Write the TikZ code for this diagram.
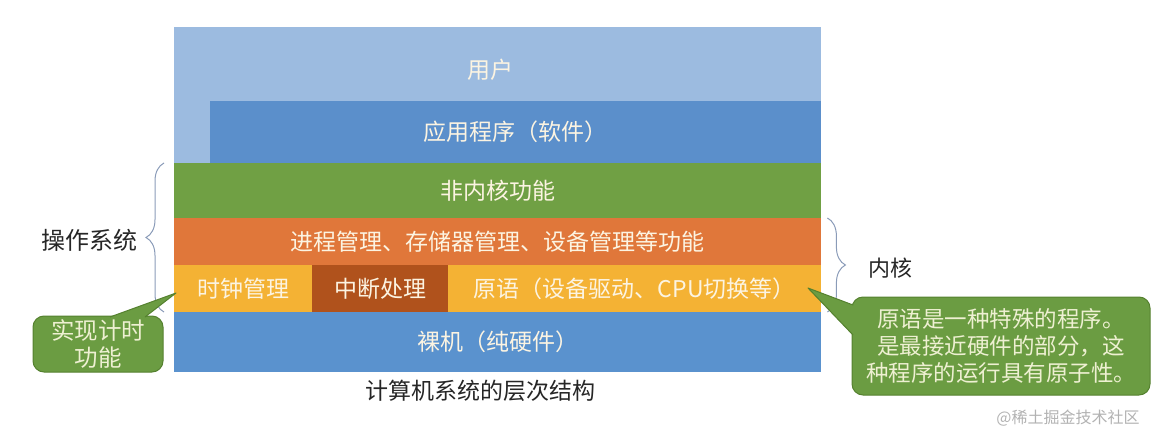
\documentclass[tikz,border=0pt]{standalone}
\usepackage{fontspec}
\setmainfont{Noto Sans CJK SC}
\usepackage{tikz}
\usetikzlibrary{decorations.pathreplacing}
\definecolor{userblue}{HTML}{9CBBE0}
\definecolor{appblue}{HTML}{5B8FCB}
\definecolor{kgreen}{HTML}{70A044}
\definecolor{korange}{HTML}{E0773A}
\definecolor{kyellow}{HTML}{F4B234}
\definecolor{kdark}{HTML}{B0521C}
\definecolor{hwblue}{HTML}{5A92CE}
\definecolor{calloutfill}{HTML}{6B9C42}
\definecolor{calloutedge}{HTML}{55812F}
\definecolor{callouttext}{HTML}{EEF0D2}
\definecolor{labelwhite}{HTML}{FCF4E2}
\definecolor{bracegray}{HTML}{8A9BB8}

\begin{document}
\begin{tikzpicture}[x=1pt,y=-1pt,
  layer/.style={inner sep=0pt,anchor=north west,text=labelwhite,
    font=\fontsize{23}{27}\selectfont},
  plain/.style={text=black!85,font=\fontsize{23}{27}\selectfont},
  callout/.style={fill=calloutfill,draw=calloutedge,line width=1pt,
    rounded corners=11pt,align=center,text=callouttext,
    font=\fontsize{22.5}{27}\selectfont,inner sep=0pt},
  tail/.style={fill=calloutfill,draw=calloutedge,line width=1pt,line join=round},
  brace/.style={draw=bracegray,line width=1pt,
    decorate,decoration={brace,amplitude=18pt}}]

\useasboundingbox (0,0) rectangle (1155,436);

% layers
\node [layer,fill=userblue,minimum width=647pt,minimum height=136pt] (user) at (174,27) {};
\node [layer,anchor=center] (userlbl) at (490,70) {用户};
\node [layer,fill=appblue,minimum width=611pt,minimum height=62pt] (app) at (210,101) {应用程序（软件）};
\node [layer,fill=kgreen,minimum width=647pt,minimum height=55pt] (nonkern) at (174,163) {非内核功能};
\node [layer,fill=korange,minimum width=647pt,minimum height=47pt] (mgmt) at (174,218) {进程管理、存储器管理、设备管理等功能};
\node [layer,fill=kyellow,minimum width=138pt,minimum height=47pt] (clk) at (174,265) {时钟管理};
\node [layer,fill=kdark,minimum width=136pt,minimum height=47pt] (intr) at (312,265) {中断处理};
\node [layer,fill=kyellow,minimum width=373pt,minimum height=47pt] (prim) at (448,265) {原语（设备驱动、CPU切换等）};
\node [layer,fill=hwblue,minimum width=647pt,minimum height=60pt] (hw) at (174,312) {裸机（纯硬件）};

\node [plain] (caption) at (480,391) {计算机系统的层次结构};

% braces
\draw [brace] ([xshift=-10pt]hw.north west) -- ([xshift=-10pt]nonkern.north west);
\node [plain,font=\fontsize{24}{28}\selectfont] (oslbl) at (89,240) {操作系统};
\draw [brace] ([xshift=6pt]mgmt.north east) -- ([xshift=6pt]hw.north east);
\node [plain,font=\fontsize{22}{26}\selectfont] (kernlbl) at (890,268) {内核};

% callouts
\coordinate (clktip) at (176,293);
\coordinate (primtip) at (808,288);

\node [callout,font=\fontsize{23.5}{27}\selectfont,minimum width=130pt,minimum height=56pt] (clkcall) at (98,344) {实现计时\\功能};
\draw [tail] ([xshift=12pt,yshift=-1.5pt]clkcall.north) -- (clktip) -- ([xshift=47pt,yshift=-1.5pt]clkcall.north);

\node [callout,minimum width=298pt,minimum height=98pt] (kerncall) at (1001,346)
  {原语是一种特殊的程序。\\是最接近硬件的部分，这\\种程序的运行具有原子性。};
\draw [tail] ([xshift=1.5pt,yshift=41pt]kerncall.west) -- (primtip) -- ([xshift=1.5pt,yshift=11pt]kerncall.west);

\node [text=black!30,font=\fontsize{16}{18}\selectfont] (mark) at (1068,418) {@稀土掘金技术社区};

\end{tikzpicture}
\end{document}
